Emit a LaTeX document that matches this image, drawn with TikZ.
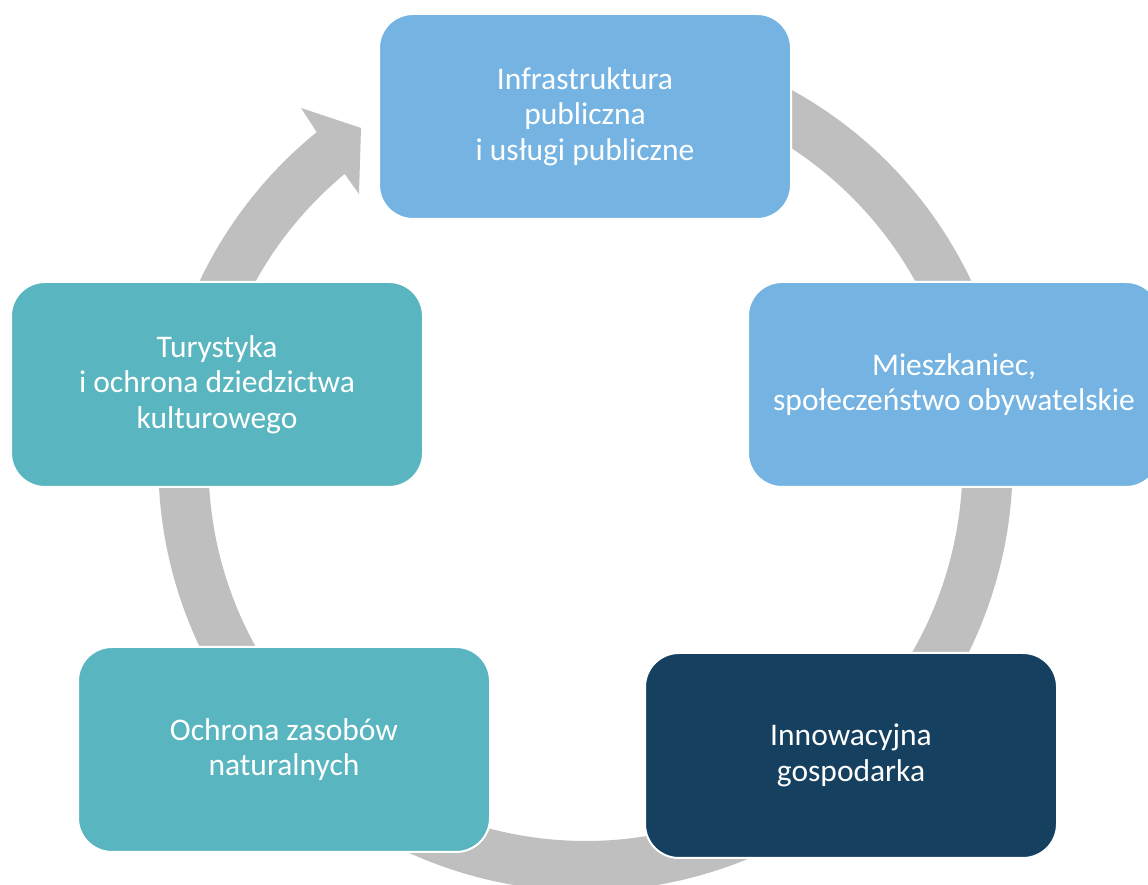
\documentclass[tikz,border=0pt]{standalone}
\usepackage{fontspec}
\setmainfont{Carlito}
\usetikzlibrary{calc}
\definecolor{lightblue}{HTML}{75B4E2}
\definecolor{tealbox}{HTML}{59B5BF}
\definecolor{navybox}{HTML}{15405F}
\definecolor{ringgray}{HTML}{BFBFBF}
\tikzset{
  cyclebox/.style={draw=white, line width=2pt, rounded corners=34pt,
    minimum width=412pt, minimum height=205pt, inner sep=0pt,
    align=center, text=white, font=\fontsize{31.5}{35.5}\selectfont},
}
\begin{document}
\begin{tikzpicture}[x=1pt,y=1pt]
\clip (0,0) rectangle (1148,885);
\fill[white] (0,0) rectangle (1148,885);
\coordinate (C) at (585.5,421);
% ring with arrow head
\fill[ringgray] ($(C)+(70:427)$) arc[start angle=70, end angle=-231, radius=427]
  -- (301,777) -- (361,757) -- (359,691)
  -- ($(C)+(-230.3:377)$) arc[start angle=-230.3, end angle=70, radius=377] -- cycle;
% boxes
\node[cyclebox, fill=lightblue] (infra) at (585,768.5) {Infrastruktura\\publiczna\\i usługi publiczne};
\node[cyclebox, fill=lightblue] (miesz) at (954,500.5) {Mieszkaniec,\\społeczeństwo obywatelskie};
\node[cyclebox, fill=navybox] (innow) at (851,129.5) {Innowacyjna\\gospodarka};
\node[cyclebox, fill=tealbox] (ochr) at (284,135.5) {Ochrona zasobów\\naturalnych};
\node[cyclebox, fill=tealbox] (tury) at (217,500.5) {Turystyka\\i ochrona dziedzictwa\\kulturowego};
\end{tikzpicture}
\end{document}
